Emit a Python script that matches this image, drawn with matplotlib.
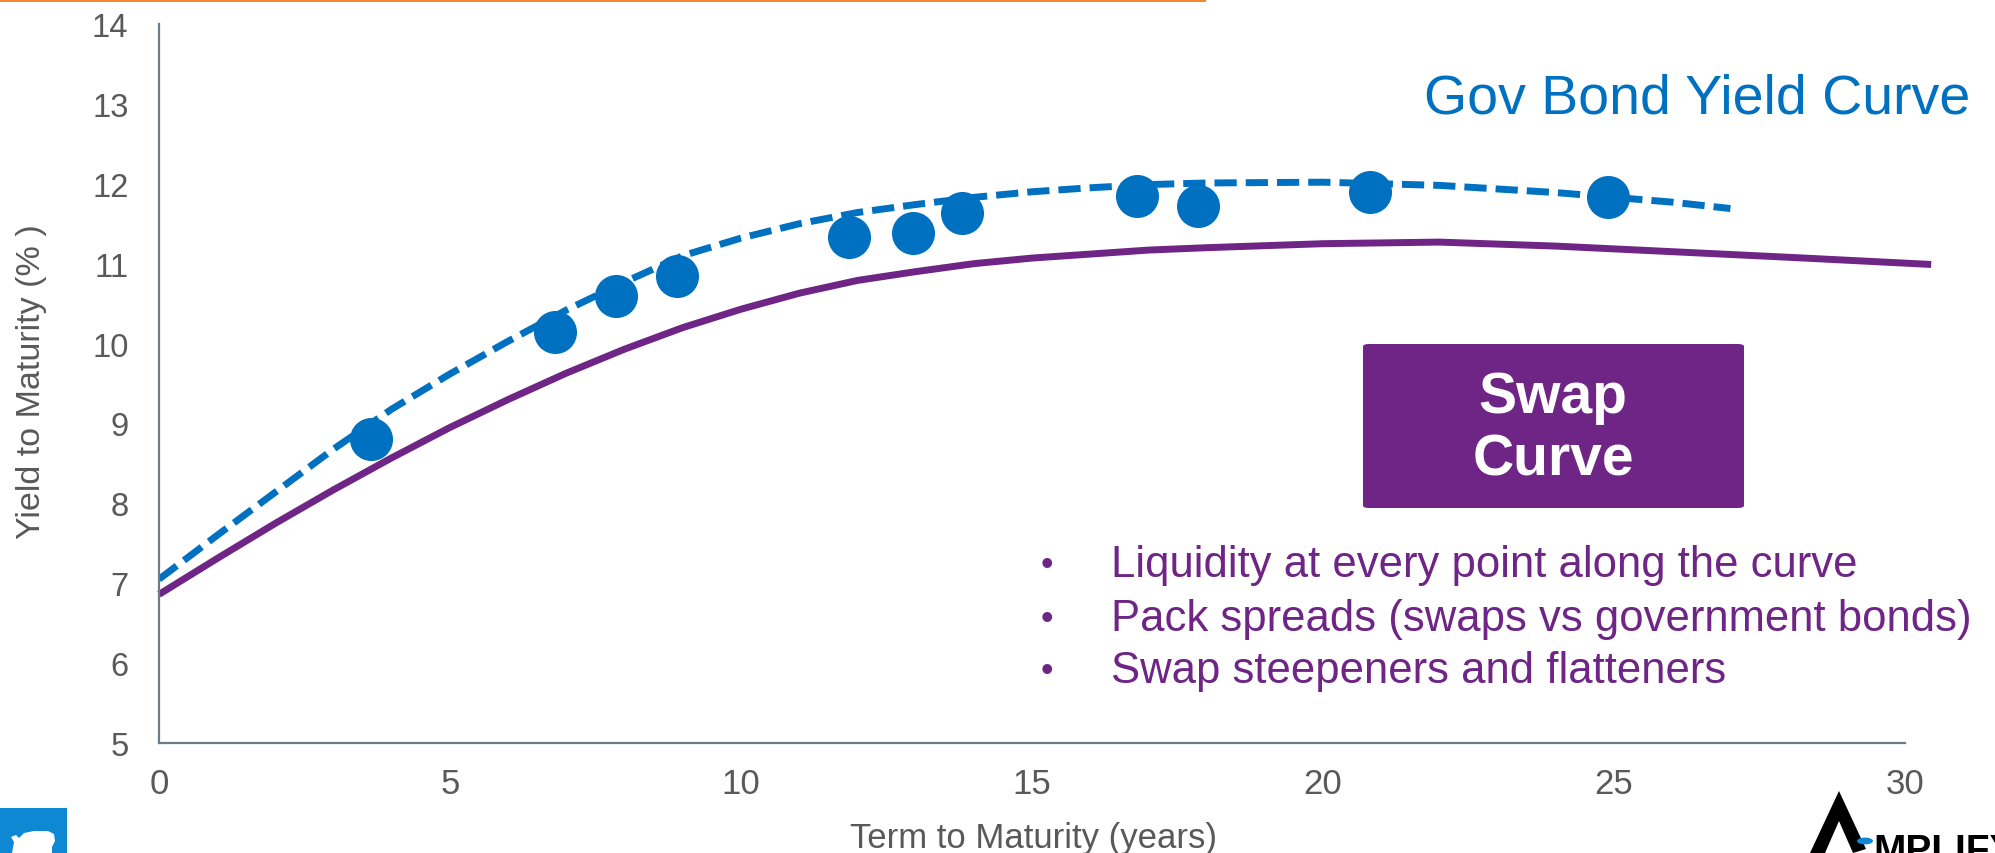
import matplotlib
matplotlib.use("Agg")
import matplotlib.pyplot as plt
from matplotlib.patches import FancyBboxPatch, Rectangle, Polygon, Circle

plt.rcParams['font.family'] = ['Liberation Sans', 'DejaVu Sans']

# government bond yields (term in years, yield in %)
bond_terms = [3.65, 6.8, 7.85, 8.9, 11.85, 12.95, 13.8, 16.8, 17.85, 20.8, 24.9]
bond_yields = [8.80, 10.15, 10.59, 10.85, 11.34, 11.39, 11.63, 11.85, 11.72, 11.90, 11.83]

# fitted government curve
gov_terms = [0, 1, 2, 3, 4, 5, 6, 7, 8, 9, 10, 11, 12, 13, 14, 15, 16, 17, 18, 20, 22, 24, 26, 27]
gov_fit = [7.05, 7.60, 8.14, 8.68, 9.18, 9.62, 10.03, 10.42, 10.77, 11.10, 11.32, 11.50,
           11.64, 11.74, 11.83, 11.90, 11.95, 11.99, 12.01, 12.02, 11.98, 11.89, 11.77, 11.69]

# swap curve
swap_terms = [0, 1, 2, 3, 4, 5, 6, 7, 8, 9, 10, 11, 12, 13, 14, 15, 16, 17, 18, 20, 22, 24, 26, 28, 30.45]
swap_yields = [6.86, 7.31, 7.75, 8.17, 8.57, 8.95, 9.30, 9.63, 9.93, 10.20, 10.43, 10.63, 10.79,
               10.90, 11.00, 11.07, 11.12, 11.17, 11.20, 11.25, 11.27, 11.22, 11.15, 11.08, 10.99]

x_ticks = [0, 5, 10, 15, 20, 25, 30]
y_ticks = [5, 6, 7, 8, 9, 10, 11, 12, 13, 14]

bullets = ["Liquidity at every point along the curve",
           "Pack spreads (swaps vs government bonds)",
           "Swap steepeners and flatteners"]

BLUE = '#0070C0'
PURPLE = '#6E2585'
GREY = '#595959'

W, H = 1995, 854
fig = plt.figure(figsize=(W / 100, H / 100), dpi=100)
ax = fig.add_axes([159 / W, 1 - 744 / H, (1905 - 159) / W, (744 - 25) / H])

ax.plot(swap_terms, swap_yields, color=PURPLE, lw=5, solid_capstyle='butt', clip_on=False)
ax.plot(gov_terms, gov_fit, color=BLUE, lw=5, dashes=(3.2, 1.3), dash_capstyle='butt')
ax.plot(bond_terms, bond_yields, 'o', color=BLUE, ms=31, mec='none', zorder=5)

ax.set_xlim(0, 30)
ax.set_ylim(5, 14)
ax.set_xticks(x_ticks)
ax.set_yticks(y_ticks)
for s in ['top', 'right']:
    ax.spines[s].set_visible(False)
for s in ['left', 'bottom']:
    ax.spines[s].set_color('#6f7b85')
    ax.spines[s].set_linewidth(1.6)
ax.tick_params(axis='both', length=0, colors=GREY)
ax.tick_params(axis='x', labelsize=25, pad=17)
ax.tick_params(axis='y', labelsize=23.5, pad=22)

fig.text(32 / W, 1 - 382 / H, "Yield to Maturity (% )", rotation=90, ha='center', va='center',
         fontsize=24.5, color=GREY)
fig.text(1033 / W, 1 - 839 / H, "Term to Maturity (years)", ha='center', va='center',
         fontsize=25, color=GREY)

fig.text(1970 / W, 1 - 100 / H, "Gov Bond Yield Curve", ha='right', va='center',
         fontsize=40, color=BLUE)

# swap curve label box
box = FancyBboxPatch((1363 / W, 1 - 509 / H), (1744 - 1363) / W, (509 - 345) / H,
                     boxstyle='round,pad=0,rounding_size=0.003', transform=fig.transFigure,
                     facecolor=PURPLE, edgecolor='none')
fig.patches.append(box)
fig.text(1553 / W, 1 - 429 / H, "Swap\nCurve", ha='center', va='center', fontsize=41,
         fontweight='bold', color='white', linespacing=1.2)

for i, line in enumerate(bullets):
    y = 1 - (566 + 53 * i) / H
    fig.text(1047 / W, y, "\u2022", ha='center', va='center', fontsize=26, color=PURPLE)
    fig.text(1111 / W, y, line, ha='left', va='center', fontsize=31.4, color=PURPLE)

# orange rule along the top
fig.patches.append(Rectangle((0, 1 - 3 / H), 1206 / W, 3 / H, transform=fig.transFigure,
                             facecolor='#F58634', edgecolor='none'))

# blue badge with a white rhino, bottom left
fig.patches.append(Rectangle((0, 0), 67 / W, 45 / H, transform=fig.transFigure,
                             facecolor='#0E88D3', edgecolor='none'))
rhino = [(12, 854), (14, 843), (11, 838), (16, 836), (19, 839), (24, 834), (34, 832), (48, 832),
         (54, 835), (55, 842), (52, 848), (52, 854)]
fig.patches.append(Polygon([(x / W, 1 - y / H) for x, y in rhino], closed=True,
                           transform=fig.transFigure, facecolor='white', edgecolor='none'))

# logo, bottom right
logo = [(1810, 854), (1839, 792), (1866, 850), (1853, 854), (1839, 822), (1825, 854)]
fig.patches.append(Polygon([(x / W, 1 - y / H) for x, y in logo], closed=True,
                           transform=fig.transFigure, facecolor='black', edgecolor='none'))
fig.patches.append(Circle((1865 / W, 1 - 842 / H), 8 / W, transform=fig.transFigure,
                          facecolor='#0E88D3', edgecolor='none'))
fig.text(1873 / W, 1 - 862 / H, "MPLIFY", ha='left', va='baseline', fontsize=28,
         fontweight='bold', color='black')

fig.savefig('out.png', dpi=100)
